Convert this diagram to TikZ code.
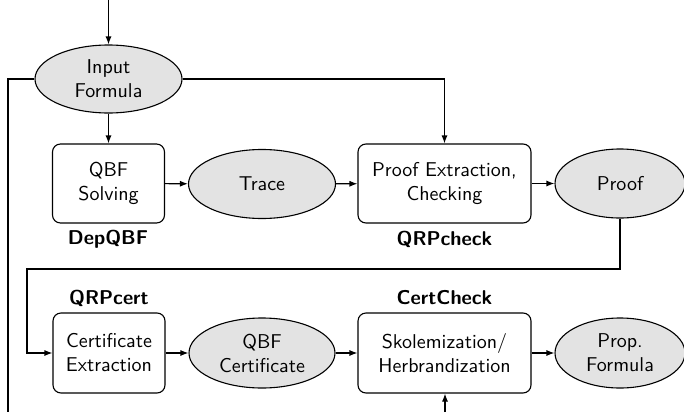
\documentclass[tikz,border=0pt]{standalone}
\usetikzlibrary{shapes.geometric,arrows.meta}
\begin{document}
\begin{tikzpicture}[x=0.5pt,y=-0.5pt,
  every node/.style={font=\sffamily},
  data/.style={ellipse,draw,fill=gray!22,line width=0.55pt,inner sep=0pt,align=center},
  proc/.style={rectangle,rounded corners=4pt,draw,line width=0.55pt,inner sep=0pt,align=center},
  tool/.style={font=\sffamily\bfseries},
  conn/.style={line width=0.55pt,-{Latex[length=4pt,width=3pt]}},
  plain/.style={line width=0.55pt}]
\useasboundingbox (0,0) rectangle (684,412);
\node[data,minimum width=73.5pt,minimum height=34pt] (in) at (108.5,79) {Input\\Formula};
\node[proc,minimum width=56pt,minimum height=39.5pt] (qbf) at (108.5,183.5) {QBF\\Solving};
\node[data,minimum width=73.5pt,minimum height=34.5pt] (trace) at (262,184) {Trace};
\node[proc,minimum width=86.5pt,minimum height=39.5pt] (pe) at (444.5,183.5) {Proof Extraction,\\Checking};
\node[data,minimum width=65pt,minimum height=34.5pt] (proof) at (620,183.5) {Proof};
\node[proc,minimum width=56pt,minimum height=40pt] (ce) at (109,353) {Certificate\\Extraction};
\node[data,minimum width=73pt,minimum height=35pt] (cert) at (262,353) {QBF\\Certificate};
\node[proc,minimum width=86.5pt,minimum height=40pt] (sk) at (444.5,353) {Skolemization/\\Herbrandization};
\node[data,minimum width=65pt,minimum height=35pt] (prop) at (620,353) {Prop.\\Formula};
\node[tool] (dep) at (108,239) {DepQBF};
\node[tool] (qrpcheck) at (444.5,239) {QRPcheck};
\node[tool] (qrpcert) at (109,298) {QRPcert};
\node[tool] (certcheck) at (444.5,298) {CertCheck};
\coordinate (top) at (108.5,0);
\coordinate (bl) at (8,412);
\coordinate (bc) at (445,412);
\draw[conn] (top) -- (in);
\draw[conn] (in) -- (qbf);
\draw[plain] (in.west) -- (8,79) -- (bl);
\draw[conn] (in.east) -| (pe.north);
\draw[conn] (qbf) -- (trace);
\draw[conn] (trace) -- (pe);
\draw[conn] (pe) -- (proof);
\draw[conn] (proof.south) -- (620,269) -- (27,269) |- (ce.west);
\draw[conn] (ce) -- (cert);
\draw[conn] (cert) -- (sk);
\draw[conn] (sk) -- (prop);
\draw[conn] (bc) -- (sk.south -| bc);
\end{tikzpicture}
\end{document}
